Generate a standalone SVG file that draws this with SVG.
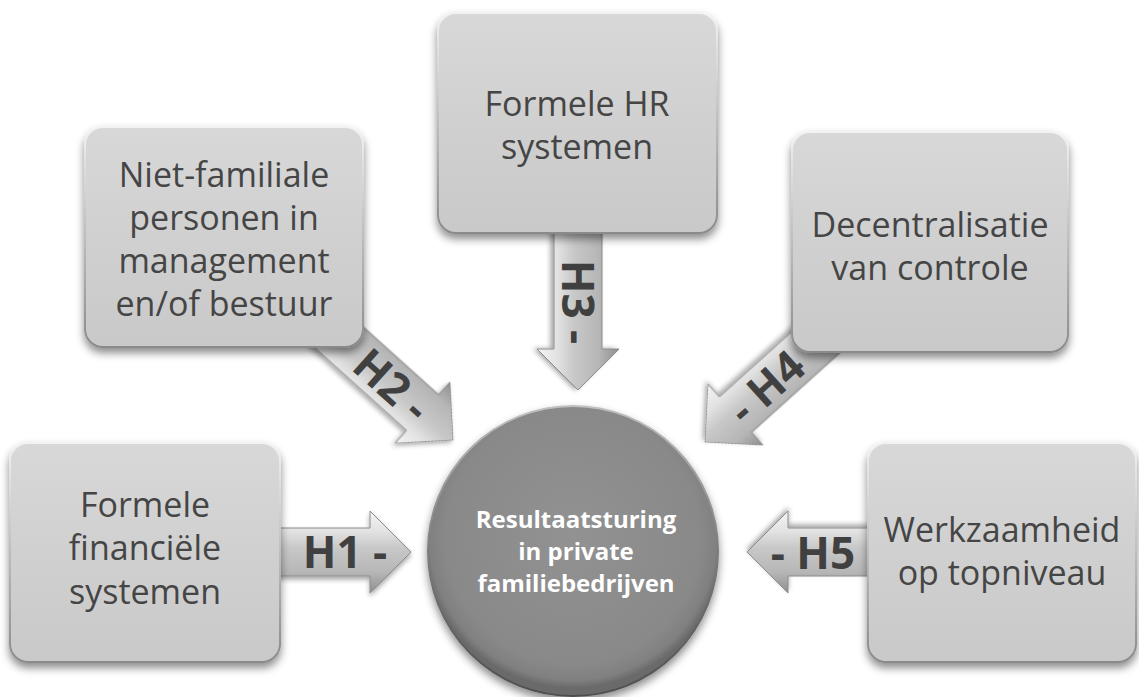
<svg xmlns="http://www.w3.org/2000/svg" width="1139" height="697" viewBox="0 0 1139 697">
<defs>
<style>
.box{fill:url(#boxFill);stroke:url(#boxRim);stroke-width:2;filter:url(#sh)}
.bt{font-family:"Open Sans","Noto Sans",sans-serif;font-size:34px;fill:#454545;text-anchor:middle}
.lbl{font-family:"Open Sans","Noto Sans",sans-serif;font-size:44px;font-weight:bold;fill:#404040;text-anchor:middle}
.ct{font-family:"Open Sans","Noto Sans",sans-serif;font-size:24px;font-weight:bold;fill:#ffffff;text-anchor:middle}
.arA{fill:url(#gA);stroke:#8c8c8c;stroke-width:1;filter:url(#sh2)}
.arB{fill:url(#gB);stroke:#8c8c8c;stroke-width:1;filter:url(#sh2)}
</style>
<filter id="sh" x="-20%" y="-20%" width="140%" height="150%">
<feDropShadow dx="0" dy="5" stdDeviation="4" flood-color="#000" flood-opacity="0.45"/>
</filter>
<filter id="sh2" x="-20%" y="-30%" width="140%" height="160%">
<feDropShadow dx="0" dy="3" stdDeviation="2.5" flood-color="#000" flood-opacity="0.35"/>
</filter>
<linearGradient id="boxFill" x1="0" y1="0" x2="0" y2="1">
<stop offset="0" stop-color="#d8d8d8"/>
<stop offset="0.5" stop-color="#d0d0d0"/>
<stop offset="1" stop-color="#c9c9c9"/>
</linearGradient>
<linearGradient id="boxRim" x1="0" y1="0" x2="0" y2="1">
<stop offset="0" stop-color="#f2f2f2"/>
<stop offset="0.5" stop-color="#bdbdbd"/>
<stop offset="1" stop-color="#8a8a8a"/>
</linearGradient>
<linearGradient id="gA" gradientUnits="userSpaceOnUse" x1="0" y1="-41" x2="0" y2="41">
<stop offset="0" stop-color="#f4f4f4"/>
<stop offset="0.25" stop-color="#e2e2e2"/>
<stop offset="0.45" stop-color="#c8c8c8"/>
<stop offset="0.75" stop-color="#b6b6b6"/>
<stop offset="1" stop-color="#8f8f8f"/>
</linearGradient>
<linearGradient id="gB" gradientUnits="userSpaceOnUse" x1="0" y1="41" x2="0" y2="-41">
<stop offset="0" stop-color="#f4f4f4"/>
<stop offset="0.25" stop-color="#e2e2e2"/>
<stop offset="0.45" stop-color="#c8c8c8"/>
<stop offset="0.75" stop-color="#b6b6b6"/>
<stop offset="1" stop-color="#8f8f8f"/>
</linearGradient>
<radialGradient id="circFill" cx="0.5" cy="0.45" r="0.55">
<stop offset="0" stop-color="#929292"/>
<stop offset="0.8" stop-color="#898989"/>
<stop offset="0.9" stop-color="#808080"/>
<stop offset="0.95" stop-color="#6a6a6a"/>
</radialGradient>
<linearGradient id="circRim" x1="0" y1="0" x2="0" y2="1">
<stop offset="0" stop-color="#c0c0c0"/>
<stop offset="0.5" stop-color="#7c7c7c"/>
<stop offset="1" stop-color="#4e4e4e"/>
</linearGradient>
</defs>
<rect width="1139" height="697" fill="#ffffff"/>

<g id="connectors">
<path class="arA" transform="translate(411,552)" d="M0,0 L-41,-41 L-41,-24 L-135,-24 L-135,24 L-41,24 L-41,41 Z"/>
<path class="arB" transform="translate(747,552) rotate(180)" d="M0,0 L-41,-41 L-41,-24 L-125,-24 L-125,24 L-41,24 L-41,41 Z"/>
<path class="arB" transform="translate(578,390) rotate(90)" d="M0,0 L-41,-41 L-41,-24 L-160,-24 L-160,24 L-41,24 L-41,41 Z"/>
<path class="arB" transform="translate(453,440) rotate(42)" d="M0,0 L-41,-41 L-41,-24 L-175,-24 L-175,24 L-41,24 L-41,41 Z"/>
<path class="arB" transform="translate(705,442) rotate(138)" d="M0,0 L-41,-41 L-41,-24 L-175,-24 L-175,24 L-41,24 L-41,41 Z"/>
</g>

<g id="node-h1">
<rect class="box" x="10" y="443" width="270" height="219" rx="18"/>
<text class="bt" x="145" y="517">Formele</text>
<text class="bt" x="145" y="560">financiële</text>
<text class="bt" x="145" y="604">systemen</text>
</g>
<g id="node-h2">
<rect class="box" x="85" y="127" width="278" height="220" rx="18"/>
<text class="bt" x="224" y="187">Niet-familiale</text>
<text class="bt" x="224" y="230">personen in</text>
<text class="bt" x="224" y="273">management</text>
<text class="bt" x="224" y="316">en/of bestuur</text>
</g>
<g id="node-h3">
<rect class="box" x="438" y="13" width="279" height="220" rx="18"/>
<text class="bt" x="577" y="116">Formele HR</text>
<text class="bt" x="577" y="159">systemen</text>
</g>
<g id="node-h4">
<rect class="box" x="792" y="132" width="276" height="220" rx="18"/>
<text class="bt" x="930" y="237">Decentralisatie</text>
<text class="bt" x="930" y="280">van controle</text>
</g>
<g id="node-h5">
<rect class="box" x="868" y="443" width="268" height="219" rx="18"/>
<text class="bt" x="1002" y="542">Werkzaamheid</text>
<text class="bt" x="1002" y="585">op topniveau</text>
</g>

<g id="labels">
<text class="lbl" x="345" y="568">H1 -</text>
<text class="lbl" x="813" y="569">- H5</text>
<text class="lbl" transform="translate(578,302) rotate(90)" x="0" y="16">H3 -</text>
<text class="lbl" transform="translate(392,385) rotate(42)" x="0" y="16">H2 -</text>
<text class="lbl" transform="translate(766,387) rotate(-42)" x="0" y="16">- H4</text>
</g>

<g id="node-center">
<circle cx="573" cy="551" r="145" fill="url(#circFill)" stroke="url(#circRim)" stroke-width="2" filter="url(#sh)"/>
<text class="ct" x="576" y="528">Resultaatsturing</text>
<text class="ct" x="576" y="560">in private</text>
<text class="ct" x="576" y="592">familiebedrijven</text>
</g>
</svg>
